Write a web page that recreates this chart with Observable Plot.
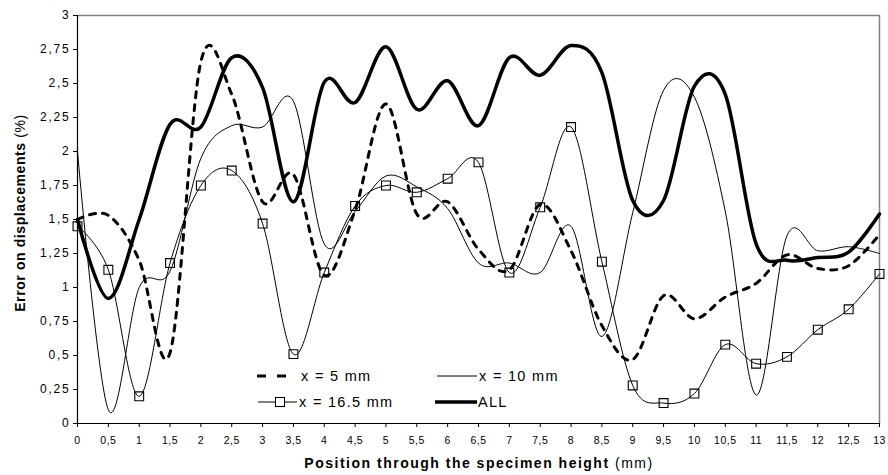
<!DOCTYPE html>
<html>
<head>
<meta charset="utf-8">
<script src="https://cdn.jsdelivr.net/npm/d3@7"></script>
<script src="https://cdn.jsdelivr.net/npm/@observablehq/plot@0.6"></script>
<style>
  html, body { margin: 0; padding: 0; background: #fff; }
  #chart { width: 888px; height: 475px; }
</style>
</head>
<body>
<div id="chart"></div>
<script>
// Positions through the specimen height (mm)
const positions = [0, 0.5, 1, 1.5, 2, 2.5, 3, 3.5, 4, 4.5, 5, 5.5, 6, 6.5, 7, 7.5, 8, 8.5, 9, 9.5, 10, 10.5, 11, 11.5, 12, 12.5, 13];

// Error on displacements (%)
const x5mm   = [1.50, 1.53, 1.20, 0.52, 2.66, 2.42, 1.63, 1.83, 1.09, 1.57, 2.35, 1.54, 1.63, 1.28, 1.13, 1.61, 1.27, 0.72, 0.47, 0.94, 0.77, 0.93, 1.03, 1.24, 1.14, 1.16, 1.39];
const x10mm  = [2.00, 0.10, 1.00, 1.12, 1.95, 2.19, 2.18, 2.37, 1.32, 1.56, 1.82, 1.74, 1.58, 1.18, 1.18, 1.11, 1.45, 0.64, 1.55, 2.45, 2.40, 1.56, 0.21, 1.38, 1.27, 1.30, 1.25];
const x165mm = [1.45, 1.13, 0.20, 1.18, 1.75, 1.86, 1.47, 0.51, 1.11, 1.60, 1.75, 1.70, 1.80, 1.92, 1.11, 1.59, 2.18, 1.19, 0.28, 0.15, 0.22, 0.58, 0.44, 0.49, 0.69, 0.84, 1.10];
const allSeries = [1.50, 0.92, 1.50, 2.20, 2.18, 2.69, 2.47, 1.63, 2.51, 2.36, 2.77, 2.31, 2.52, 2.19, 2.69, 2.56, 2.78, 2.58, 1.64, 1.64, 2.48, 2.42, 1.32, 1.20, 1.22, 1.26, 1.54];

const seriesNames = ["x = 5 mm", "x = 10 mm", "x = 16.5 mm", "ALL"];

// Tick values
const xTicks = [0, 0.5, 1, 1.5, 2, 2.5, 3, 3.5, 4, 4.5, 5, 5.5, 6, 6.5, 7, 7.5, 8, 8.5, 9, 9.5, 10, 10.5, 11, 11.5, 12, 12.5, 13];
const yTicks = [0, 0.25, 0.5, 0.75, 1, 1.25, 1.5, 1.75, 2, 2.25, 2.5, 2.75, 3];

const xTitleBold = "Position through the specimen height";
const xTitleUnit = " (mm)";
const yTitleBold = "Error on displacements";
const yTitleUnit = " (%)";

const fmt = d => String(d).replace(".", ",");
const rows = (vals) => positions.map((p, i) => ({x: p, y: vals[i]}));
const smooth = d3.curveCardinal.tension(0);

const chart = Plot.plot({
  width: 888,
  height: 475,
  marginLeft: 77,
  marginRight: 9,
  marginTop: 15,
  marginBottom: 52,
  x: {domain: [0, 13]},
  y: {domain: [0, 3]},
  style: {fontFamily: "'Liberation Sans', Arial, sans-serif", background: "#fff", color: "#000", overflow: "visible"},
  marks: [
    Plot.ruleY([3], {stroke: "#808080", strokeWidth: 1.5}),
    Plot.ruleX([13], {stroke: "#808080", strokeWidth: 1.5}),
    Plot.axisY({ticks: yTicks, tickFormat: fmt, tickSize: 4, tickPadding: 3, fontSize: 12, label: null}),
    Plot.axisX({ticks: xTicks, tickFormat: fmt, tickSize: 4, tickPadding: 9, fontSize: 10.5, label: null}),
    Plot.line(rows(x5mm), {x: "x", y: "y", curve: smooth, stroke: "#000", strokeWidth: 3, strokeDasharray: "6,7"}),
    Plot.line(rows(x10mm), {x: "x", y: "y", curve: smooth, stroke: "#000", strokeWidth: 1}),
    Plot.line(rows(x165mm), {x: "x", y: "y", curve: smooth, stroke: "#000", strokeWidth: 1}),
    Plot.dot(rows(x165mm), {x: "x", y: "y", symbol: "square", r: 5, fill: "none", stroke: "#000", strokeWidth: 1.1}),
    Plot.line(rows(allSeries), {x: "x", y: "y", curve: smooth, stroke: "#000", strokeWidth: 3.5}),
    Plot.ruleX([0], {stroke: "#000", strokeWidth: 1.2}),
    Plot.ruleY([0], {stroke: "#000", strokeWidth: 1.2})
  ]
});

document.getElementById("chart").appendChild(chart);

const svg = d3.select(chart);
svg.selectAll('g[aria-label="y-axis tick label"] text').style("letter-spacing", "1.8px");
svg.selectAll('g[aria-label="x-axis tick label"] text').style("letter-spacing", "0.5px");

// Axis titles
const xt = svg.append("text")
  .attr("x", 479).attr("y", 468)
  .attr("text-anchor", "middle")
  .style("font-size", "14px").style("letter-spacing", "1.5px").attr("fill", "#000");
xt.append("tspan").style("font-weight", "bold").text(xTitleBold);
xt.append("tspan").text(xTitleUnit);

const yt = svg.append("text")
  .attr("transform", "translate(25,213) rotate(-90)")
  .attr("text-anchor", "middle")
  .style("font-size", "14px").style("letter-spacing", "0.6px").attr("fill", "#000");
yt.append("tspan").style("font-weight", "bold").text(yTitleBold);
yt.append("tspan").text(yTitleUnit);

// Legend (inside plot area)
const lg = svg.append("g").style("font-size", "14.5px").style("letter-spacing", "1.3px").attr("text-anchor", "start");
const legendItems = [
  {name: seriesNames[0], sx0: 257, sx1: 287, tx: 301, y: 376, w: 3, dash: "9,11"},
  {name: seriesNames[1], sx0: 437, sx1: 477, tx: 479, y: 376, w: 1, dash: null},
  {name: seriesNames[2], sx0: 258, sx1: 297, tx: 299, y: 402, w: 1, dash: null, marker: 280},
  {name: seriesNames[3], sx0: 435, sx1: 477, tx: 478, y: 402, w: 3.5, dash: null}
];
legendItems.forEach(it => {
  const l = lg.append("line").attr("x1", it.sx0).attr("x2", it.sx1).attr("y1", it.y).attr("y2", it.y)
    .attr("stroke", "#000").attr("stroke-width", it.w);
  if (it.dash) l.attr("stroke-dasharray", it.dash);
  if (it.marker) lg.append("rect").attr("x", it.marker - 4.5).attr("y", it.y - 4.5).attr("width", 9).attr("height", 9)
    .attr("fill", "#fff").attr("stroke", "#000").attr("stroke-width", 1.1);
  lg.append("text").attr("x", it.tx).attr("y", it.y).attr("dy", "0.36em").attr("text-anchor", "start").attr("fill", "#000").text(it.name);
});
</script>
</body>
</html>
